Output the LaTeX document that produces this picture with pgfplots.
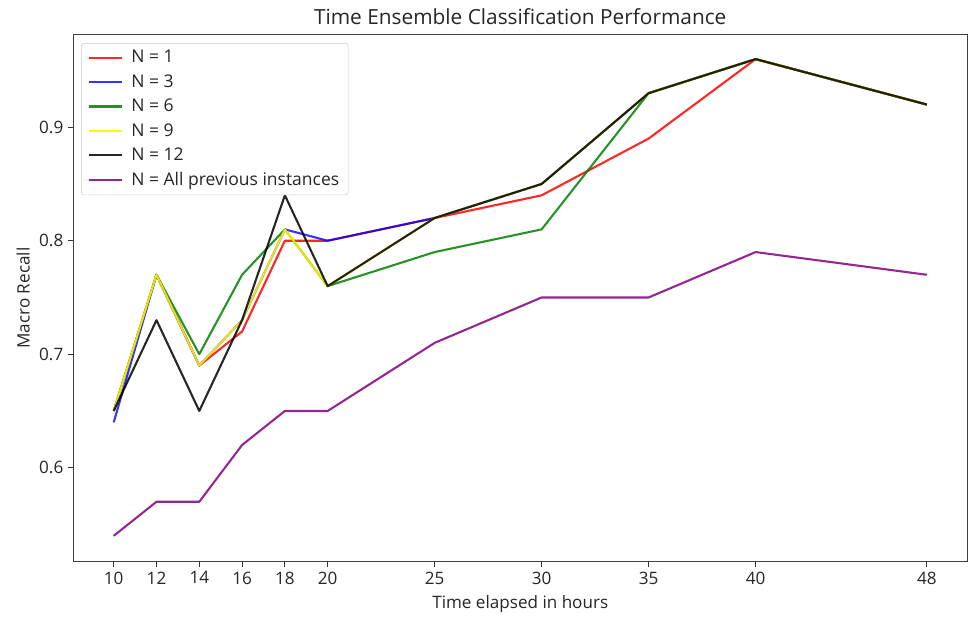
\documentclass[border=0pt]{standalone}
\usepackage{pgfplots}
\pgfplotsset{compat=1.18}
\usepackage{fontspec}
\setmainfont{Open Sans}
\definecolor{mplgreen}{HTML}{008000}
\definecolor{mplpurple}{HTML}{800080}
\begin{document}
\begin{tikzpicture}
\begin{axis}[
  scale only axis,
  width=644pt, height=380pt,
  xmin=8.1, xmax=49.9,
  ymin=0.517, ymax=0.982,
  xtick={10,12,14,16,18,20,25,30,35,40,48},
  ytick={0.6,0.7,0.8,0.9},
  yticklabel style={/pgf/number format/fixed, /pgf/number format/precision=1},
  /pgf/number format/assume math mode=true,
  tick align=outside,
  major tick length=3.5pt,
  tick style={black!80, line width=0.6pt},
  axis line style={black!75, line width=0.6pt},
  xtick pos=bottom, ytick pos=left,
  ticklabel style={font=\fontsize{12.3}{14}\selectfont, text=black!85},
  title={Time Ensemble Classification Performance},
  title style={font=\fontsize{15}{17}\selectfont, text=black!85, yshift=-2.5pt},
  xlabel={Time elapsed in hours},
  ylabel={Macro Recall},
  label style={font=\fontsize{12.3}{14}\selectfont, text=black!85},
  xlabel style={yshift=-1pt},
  ylabel style={yshift=0pt},
  legend style={at={(0.009,0.983)}, anchor=north west, draw=black!20, rounded corners=2pt,
    font=\fontsize{12.6}{14}\selectfont, text=black!85, inner xsep=4.5pt, inner ysep=3pt,
    row sep=3pt},
  legend cell align=left,
  legend image code/.code={\draw[#1, line width=1.5pt] (0pt,0pt) -- (24pt,0pt); \path (28pt,0pt);},
  every axis plot/.append style={line width=1.5pt, line join=round},
]
\addplot[red, opacity=0.85] coordinates {(10,0.65) (12,0.77) (14,0.69) (16,0.72) (18,0.80) (20,0.80) (25,0.82) (30,0.84) (35,0.89) (40,0.96) (48,0.92)};
\addlegendentry{N = 1}
\addplot[blue, opacity=0.8] coordinates {(10,0.64) (12,0.77) (14,0.69) (16,0.73) (18,0.81) (20,0.80) (25,0.82) (30,0.85) (35,0.93) (40,0.96) (48,0.92)};
\addlegendentry{N = 3}
\addplot[mplgreen, opacity=0.85] coordinates {(10,0.65) (12,0.77) (14,0.70) (16,0.77) (18,0.81) (20,0.76) (25,0.79) (30,0.81) (35,0.93) (40,0.96) (48,0.92)};
\addlegendentry{N = 6}
\addplot[yellow, opacity=0.9] coordinates {(10,0.65) (12,0.77) (14,0.69) (16,0.73) (18,0.81) (20,0.76) (25,0.82) (30,0.85) (35,0.93) (40,0.96) (48,0.92)};
\addlegendentry{N = 9}
\addplot[black, opacity=0.85] coordinates {(10,0.65) (12,0.73) (14,0.65) (16,0.73) (18,0.84) (20,0.76) (25,0.82) (30,0.85) (35,0.93) (40,0.96) (48,0.92)};
\addlegendentry{N = 12}
\addplot[mplpurple, opacity=0.85] coordinates {(10,0.54) (12,0.57) (14,0.57) (16,0.62) (18,0.65) (20,0.65) (25,0.71) (30,0.75) (35,0.75) (40,0.79) (48,0.77)};
\addlegendentry{N = All previous instances}
\end{axis}
\useasboundingbox (-52.6pt,-37.4pt) rectangle (644.4pt,404.6pt);
\end{tikzpicture}
\end{document}
